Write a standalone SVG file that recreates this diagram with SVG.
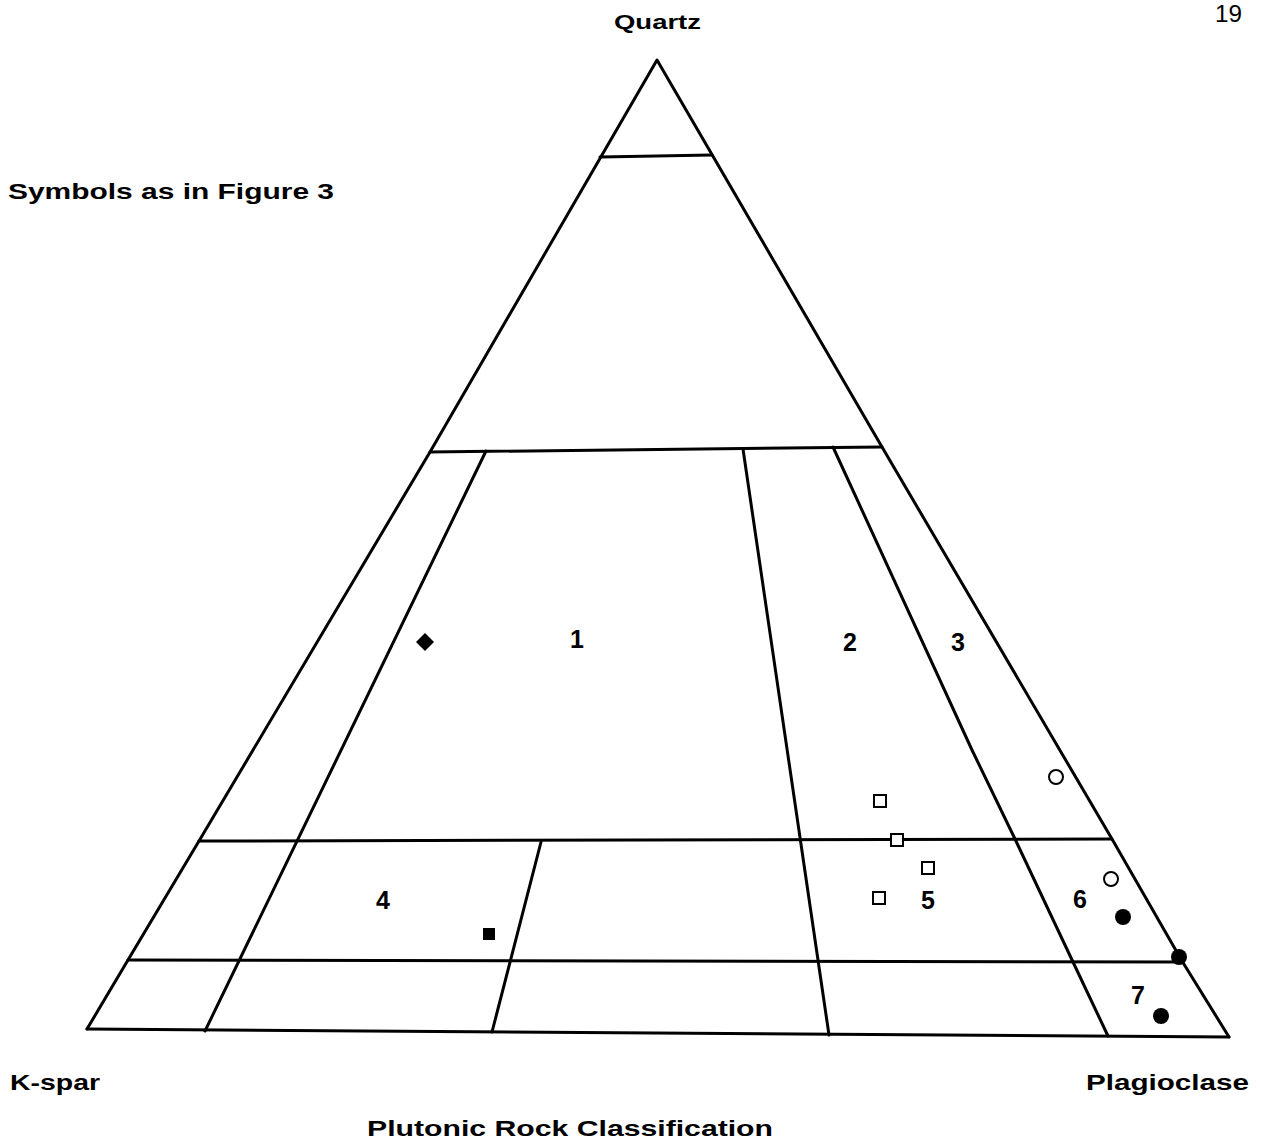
<svg xmlns="http://www.w3.org/2000/svg" width="1262" height="1143" viewBox="0 0 1262 1143">
<style>
.ln{fill:none;stroke:#000;stroke-width:3;stroke-linejoin:round;stroke-linecap:round}
.lb{font-family:"Liberation Sans",Arial,sans-serif;font-weight:bold;fill:#000}
.num{font-family:"Liberation Sans",Arial,sans-serif;font-weight:bold;font-size:25px;text-anchor:middle;fill:#000}
.os{fill:#fff;stroke:#000;stroke-width:2}
.oc{fill:#fff;stroke:#000;stroke-width:2}
.fc{fill:#000}
</style>
<rect width="1262" height="1143" fill="#fff"/>
<g id="connectors">
<polyline class="ln" points="87,1029 128,960 199,841 430,452 657,60 882,447 1112,839 1182,961 1229,1037"/>
<line class="ln" x1="87" y1="1029" x2="1229" y2="1037"/>
<line class="ln" x1="600" y1="157" x2="712" y2="155"/>
<line class="ln" x1="430" y1="452" x2="882" y2="447"/>
<line class="ln" x1="199" y1="841" x2="1112" y2="839"/>
<line class="ln" x1="128" y1="960" x2="1182" y2="962"/>
<line class="ln" x1="486" y1="451" x2="205" y2="1031"/>
<line class="ln" x1="743" y1="449" x2="829" y2="1035"/>
<polyline class="ln" points="833,447 972,750 1015,839 1073,962 1108,1036"/>
<line class="ln" x1="541" y1="842" x2="492" y2="1032"/>
</g>
<g id="labels">
<text class="lb" x="614" y="29" font-size="21" textLength="87" lengthAdjust="spacingAndGlyphs">Quartz</text>
<text x="1215" y="22" font-family="Liberation Sans,Arial,sans-serif" font-size="24" textLength="27" lengthAdjust="spacingAndGlyphs">19</text>
<text class="lb" x="8" y="199" font-size="22" textLength="326" lengthAdjust="spacingAndGlyphs">Symbols as in Figure 3</text>
<text class="lb" x="10" y="1090" font-size="22" textLength="90" lengthAdjust="spacingAndGlyphs">K-spar</text>
<text class="lb" x="1086" y="1090" font-size="22" textLength="163" lengthAdjust="spacingAndGlyphs">Plagioclase</text>
<text class="lb" x="367" y="1136" font-size="22" textLength="406" lengthAdjust="spacingAndGlyphs">Plutonic Rock Classification</text>
</g>
<g id="fields">
<text class="num" x="577" y="648">1</text>
<text class="num" x="850" y="651">2</text>
<text class="num" x="958" y="651">3</text>
<text class="num" x="383" y="909">4</text>
<text class="num" x="928" y="909">5</text>
<text class="num" x="1080" y="908">6</text>
<text class="num" x="1138" y="1004">7</text>
</g>
<g id="data">
<polygon id="diamond" class="fc" points="425,633 434,642 425,651 416,642"/>
<rect id="fsq" class="fc" x="483" y="928" width="12" height="12"/>
<rect class="os" x="874" y="795" width="12" height="12"/>
<rect class="os" x="891" y="834" width="12" height="12"/>
<rect class="os" x="922" y="862" width="12" height="12"/>
<rect class="os" x="873" y="892" width="12" height="12"/>
<circle class="oc" cx="1056" cy="777" r="7"/>
<circle class="oc" cx="1111" cy="879" r="7"/>
<circle class="fc" cx="1123" cy="917" r="8"/>
<circle class="fc" cx="1179" cy="957" r="8"/>
<circle class="fc" cx="1161" cy="1016" r="8"/>
</g>
</svg>
